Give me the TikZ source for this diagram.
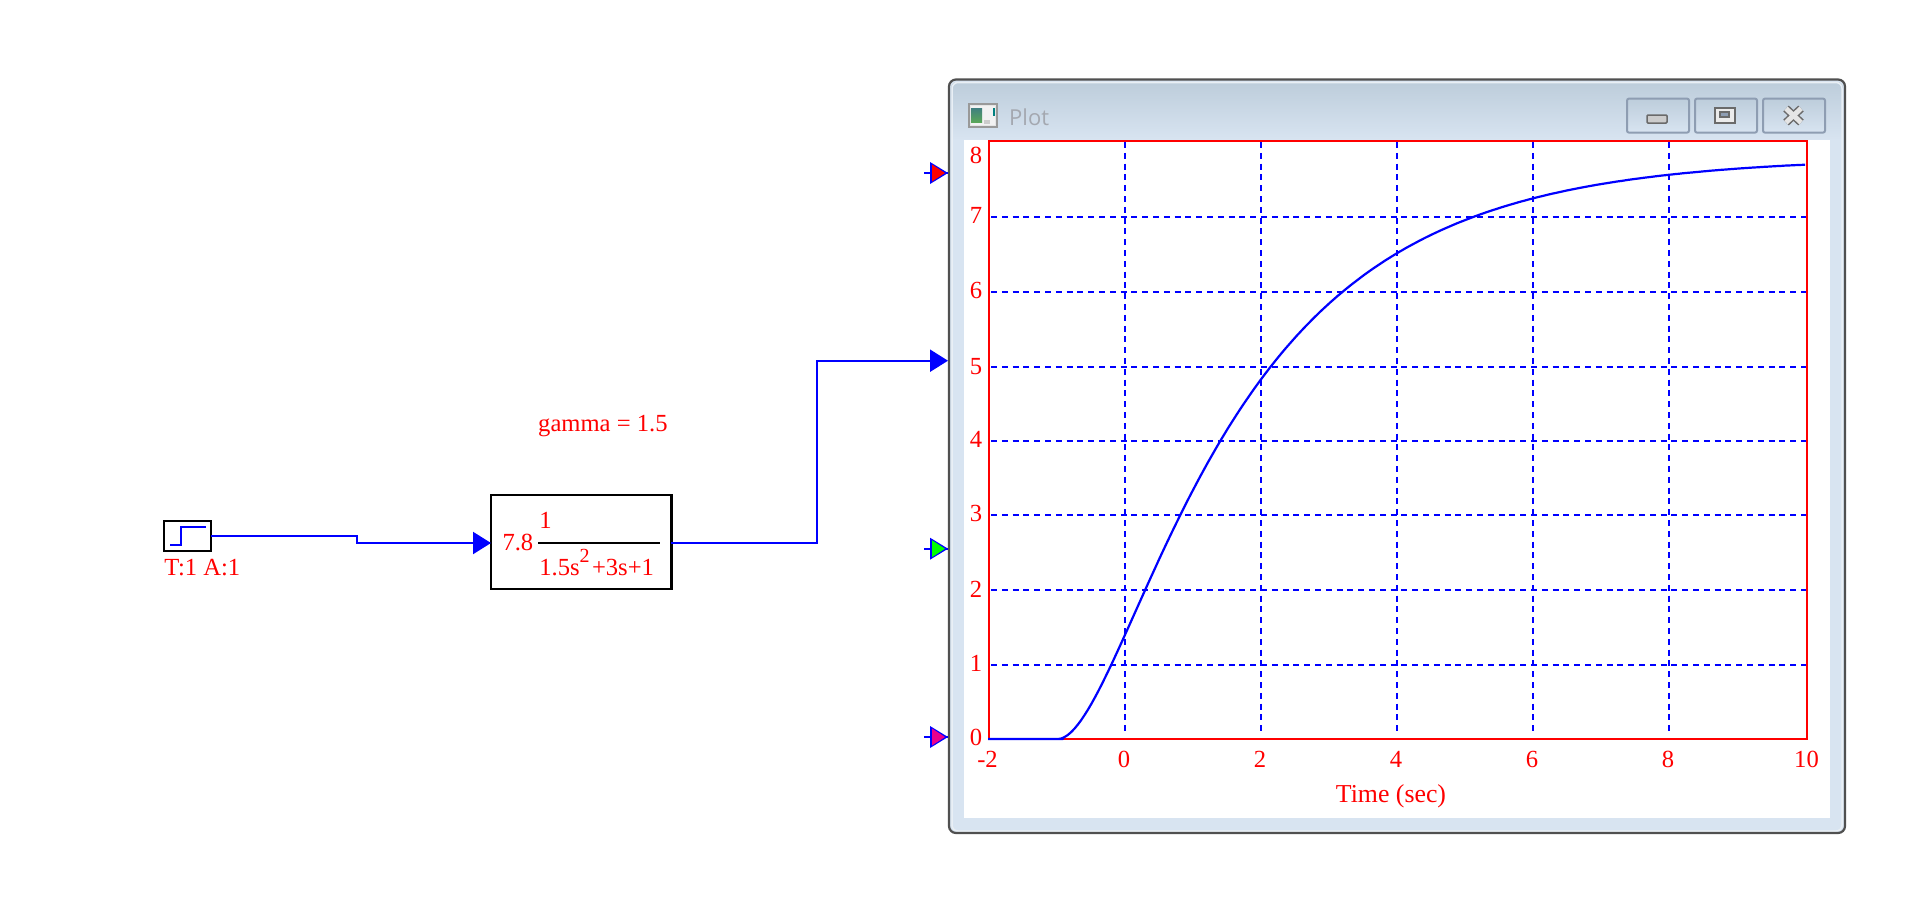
\documentclass[tikz,border=0pt]{standalone}
\usepackage{fontspec}
\setmainfont{Liberation Serif}
\newfontfamily\uifont{Open Sans}
\usetikzlibrary{arrows.meta}
\definecolor{frameedge}{HTML}{505050}
\definecolor{framebody}{HTML}{D8E4F1}
\definecolor{frametop}{HTML}{BDCDDB}
\definecolor{framelight}{HTML}{E9EFF5}
\definecolor{titletext}{HTML}{A4A8B0}
\definecolor{btnedge}{HTML}{8E9DB2}
\definecolor{sigblue}{HTML}{0000FF}
\definecolor{labred}{HTML}{FF0000}
\tikzset{
  lab/.style={text=labred,font=\fontsize{24.6}{26}\selectfont,inner sep=0pt,outer sep=0pt},
  labw/.style={lab,anchor=base west},
  labc/.style={lab,anchor=base},
  wire/.style={draw=sigblue,line width=2.2pt},
  wirearrow/.style={wire,-{Triangle[length=18pt,width=22pt]}},
  blockbox/.style={draw=black,line width=2.2pt,inner sep=0pt,outer sep=0pt,fill=white},
  griddash/.style={draw=sigblue,line width=2.2pt,dash pattern=on 6pt off 4.8pt},
  plotframe/.style={draw=labred,line width=2.2pt},
  winbtn/.style={draw=btnedge,line width=2pt,rounded corners=2pt,inner sep=0pt,
     top color=frametop,bottom color=framebody,minimum height=34pt,minimum width=62pt},
}
\begin{document}
\begin{tikzpicture}[x=1pt,y=-1pt]
\useasboundingbox (0,0) rectangle (1916,914);
\fill[white] (0,0) rectangle (1916,914);
% window
\fill[framebody,rounded corners=7pt] (949,833) -- (949,80) -- (1845,80) -- (1845,833) -- cycle;
\shade[top color=frametop,bottom color=framebody,rounded corners=6pt] (951,140) -- (951,82) -- (1843,82) -- (1843,140) -- cycle;
\draw[framelight,line width=1.5pt,rounded corners=6pt] (952,831) -- (952,82.5) -- (1842,82.5) -- (1842,831) -- cycle;
\draw[frameedge,line width=2.2pt,rounded corners=7pt] (949,833) -- (949,79.5) -- (1845,79.5) -- (1845,833) -- cycle;
\fill[white] (964,140) rectangle (1830,818);
% title bar
\draw[draw=gray!80,line width=2pt,fill=white!90!black] (969,104) rectangle (997,127);
\fill[black!5] (971,106) rectangle (995,125);
\shade[top color=teal!50!gray,bottom color=green!30!gray] (971,108) rectangle (982,122);
\fill[black!20] (984,120) rectangle (990,124);
\fill[teal] (993,108) rectangle (995,116);
\node[anchor=base west,inner sep=0pt,text=titletext,font=\uifont\fontsize{22}{24}\selectfont] (plottitle) at (1009,125.5) {Plot};
\node[winbtn] (btnmin) at (1658,115.6) {};
\node[winbtn] (btnmax) at (1726,115.6) {};
\node[winbtn] (btnclose) at (1794,115.6) {};
\draw[frameedge!85,line width=1.5pt,fill=black!20,rounded corners=1pt] (1647,115) rectangle (1667,123);
\draw[frameedge!85,line width=2pt,fill=black!8] (1715,107.5) rectangle (1735,122.5);
\draw[frameedge!85,line width=1.6pt,fill=btnedge] (1720,112) rectangle (1729,117);
\draw[frameedge!85,line width=8pt] (1786,108.5) -- (1801,122.5) (1801,108.5) -- (1786,122.5);
\draw[white!90!black,line width=5pt] (1786,108.5) -- (1801,122.5) (1801,108.5) -- (1786,122.5);
% grid
\foreach \yy in {664.8,590.2,515,440.7,366.7,291.8,216.9}{
  \draw[griddash] (991,\yy) -- (1806,\yy);
}
\foreach \xx in {1125,1261,1397,1533,1669}{
  \draw[griddash] (\xx,142) -- (\xx,734);
}
\draw[plotframe] (989,141) rectangle (1807,739);
% curve
\draw[wire,line join=round] (988,739) -- (1063,739) -- plot[domain=-1:10,samples=220]
  ({1125.3+68.0*\x},{739-74.6*7.8*(1-(1.5774*exp(-0.4226*(\x+1))-0.4226*exp(-1.5774*(\x+1)))/1.1547)});
% axis labels
\node[labc] (y8) at (976,163) {8};
\node[labc] (y7) at (976,223) {7};
\node[labc] (y6) at (976,298) {6};
\node[labc] (y5) at (976,374) {5};
\node[labc] (y4) at (976,447) {4};
\node[labc] (y3) at (976,521.5) {3};
\node[labc] (y2) at (976,597) {2};
\node[labc] (y1) at (976,671.5) {1};
\node[labc] (y0) at (976,745.5) {0};
\node[labc] (xm2) at (987.5,767.5) {-2};
\node[labc] (x0) at (1124,767.5) {0};
\node[labc] (x2) at (1260,767.5) {2};
\node[labc] (x4) at (1396,767.5) {4};
\node[labc] (x6) at (1532,767.5) {6};
\node[labc] (x8) at (1668,767.5) {8};
\node[labc] (x10) at (1806.5,767.5) {10};
\node[labc,font=\fontsize{25.8}{27}\selectfont] (xtitle) at (1391,802) {Time (sec)};
% ports
\coordinate (pred) at (948,173);
\coordinate (pblue) at (948,360.7);
\coordinate (pgreen) at (948,548.7);
\coordinate (pmag) at (948,737);
\foreach \p/\c in {pred/red,pgreen/green,pmag/magenta}{
  \draw[sigblue,line width=2.2pt] ([xshift=-24pt]\p) -- (\p);
  \fill[sigblue] ([xshift=-18pt,yshift=-11pt]\p) -- (\p) -- ([xshift=-18pt,yshift=11pt]\p) -- cycle;
  \fill[\c] ([xshift=-16pt,yshift=-8.5pt]\p) -- ([xshift=-3pt]\p) -- ([xshift=-16pt,yshift=8.5pt]\p) -- cycle;
}
% diagram
\node[blockbox,minimum width=47pt,minimum height=30.3pt] (step) at (187.8,536) {};
\draw[sigblue,line width=2.2pt] (170,545) -- (181,545) -- (181,526.7) -- (206,526.7);
\node[labw] (steplab) at (164.3,575.7) {T:1 A:1};
\node[blockbox,minimum width=180.4pt,minimum height=94pt] (tf) at (581.2,542) {};
\coordinate (tfin) at (491,543);
\coordinate (tfout) at (671.4,543);
\node[labw] (gain) at (502.5,550) {7.8};
\node[labw] (num) at (539.3,528) {1};
\draw[black,line width=2.2pt] (538.2,543) -- (659.6,543);
\node[labw] (den) at (539.3,575.7) {1.5s\raisebox{13pt}{\fontsize{20}{21}\selectfont 2}\kern2.4pt+3s+1};
\node[labw] (gammalab) at (538.2,431.7) {gamma = 1.5};
\draw[wirearrow] (step.east) -- (356.8,536) -- (356.8,543) -- (tfin);
\draw[wirearrow] (tfout) -- (817,543) -- (817,360.7) -- (pblue);
\end{tikzpicture}
\end{document}
